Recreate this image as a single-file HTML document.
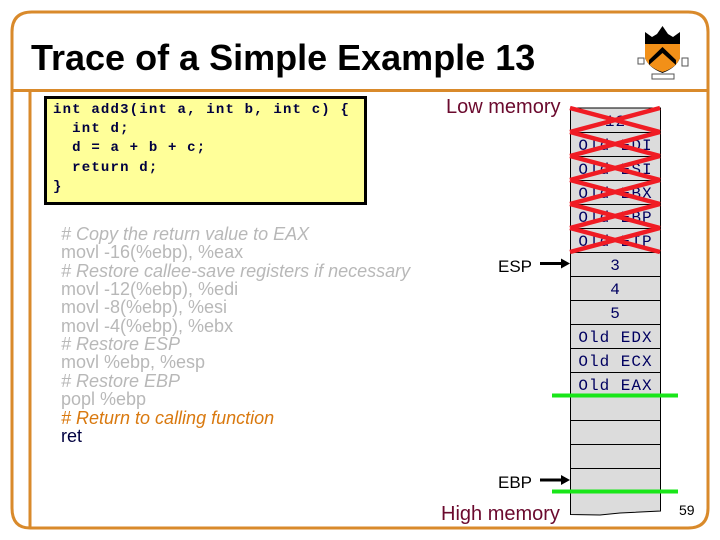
<!DOCTYPE html>
<html><head><meta charset="utf-8">
<style>
html,body{margin:0;padding:0;background:#fff}
#p{position:relative;width:720px;height:540px;overflow:hidden;background:#fff;font-family:"Liberation Sans",sans-serif}
.t{position:absolute;white-space:pre}
.g{color:#b8b8b8}.i{font-style:italic}
#code{position:absolute;left:44px;top:96px;width:317px;height:103px;border:3px solid #000;background:#ffff99}
.c{position:absolute;left:53px;white-space:pre;font:bold 14px/20px "Liberation Mono",monospace;letter-spacing:1.18px;color:#000040}
.a{position:absolute;left:61px;font-size:18px;line-height:18px;white-space:pre}
.s{position:absolute;left:571px;width:89px;text-align:center;font:16px/18px "Liberation Mono",monospace;letter-spacing:1px;color:#000060}
</style></head><body><div id="p">
<svg style="position:absolute;left:0;top:0" width="720" height="540">
<path d="M12 32 Q12 12 32 12 H688 Q708 12 708 32 V508 Q708 528 688 528 H30 Q12 528 12 508 Z" fill="#fff" stroke="#d98a2b" stroke-width="3"/>
<path d="M12 90.5 H708 M30 90.5 V528" fill="none" stroke="#d98a2b" stroke-width="3"/>
<path d="M570.5 108 H660.5 V511 L620 513 L600 515 L570.5 514.5 Z" fill="#dcdcdc" stroke="#000" stroke-width="1"/>
<g stroke="#000" stroke-width="1">
<path d="M570 132.5H660M570 156.5H660M570 180.5H660M570 204.5H660M570 228.5H660M570 252.5H660M570 276.5H660M570 300.5H660M570 324.5H660M570 348.5H660M570 372.5H660M570 396.5H660M570 420.5H660M570 444.5H660M570 468.5H660M570 492.5H660"/>
</g>
<g fill="#f29018">
<path d="M645 32 L652 37 L657 34 L662.5 26 L668 34 L673 37 L680 32 V58 Q676 68 662.5 73 Q649 68 645 58 Z" fill="#000"/>
<path d="M645 44 H680 V58 Q676 68 662.5 72 Q649 68 645 58 Z"/>
<path d="M649 60 L662.5 47 L676 60 L676 65 L662.5 53 L649 65 Z" fill="#000"/>
</g>
<path d="M638 58h6v6h-6zM682 58h6v8h-6zM652 74h22v5h-22z" fill="#fff" stroke="#555" stroke-width="1"/>
</svg>

<div class="t" style="left:31px;top:37px;font-size:36px;line-height:42px;font-weight:bold;color:#000">Trace of a Simple Example 13</div>

<div id="code"></div>
<div class="c" style="top:100px">int add3(int a, int b, int c) {</div>
<div class="c" style="top:119px">  int d;</div>
<div class="c" style="top:138px">  d = a + b + c;</div>
<div class="c" style="top:158px">  return d;</div>
<div class="c" style="top:177px">}</div>

<div class="a g i" style="top:225px"># Copy the return value to EAX</div>
<div class="a g" style="top:243px">movl -16(%ebp), %eax</div>
<div class="a g i" style="top:262px"># Restore callee-save registers if necessary</div>
<div class="a g" style="top:280px">movl -12(%ebp), %edi</div>
<div class="a g" style="top:298px">movl -8(%ebp), %esi</div>
<div class="a g" style="top:317px">movl -4(%ebp), %ebx</div>
<div class="a g i" style="top:335px"># Restore ESP</div>
<div class="a g" style="top:353px">movl %ebp, %esp</div>
<div class="a g i" style="top:372px"># Restore EBP</div>
<div class="a g" style="top:390px">popl %ebp</div>
<div class="a i" style="top:409px;color:#d9790f"># Return to calling function</div>
<div class="a" style="top:427px;color:#000040">ret</div>

<div class="t" style="left:446px;top:97px;font-size:20px;line-height:21px;color:#6b0a2e">Low memory</div>
<div class="t" style="left:441px;top:504px;font-size:20px;line-height:21px;color:#6b0a2e">High memory</div>
<div class="t" style="left:498px;top:257px;font-size:17px;line-height:19px;color:#000">ESP</div>
<div class="t" style="left:498px;top:473px;font-size:17px;line-height:19px;color:#000">EBP</div>
<div class="t" style="left:679px;top:503px;font-size:14px;line-height:15px;color:#000">59</div>

<div class="s" style="top:113px">12</div>
<div class="s" style="top:137px">Old EDI</div>
<div class="s" style="top:161px">Old ESI</div>
<div class="s" style="top:185px">Old EBX</div>
<div class="s" style="top:209px">Old EBP</div>
<div class="s" style="top:233px">Old EIP</div>
<div class="s" style="top:257px">3</div>
<div class="s" style="top:281px">4</div>
<div class="s" style="top:305px">5</div>
<div class="s" style="top:329px">Old EDX</div>
<div class="s" style="top:353px">Old ECX</div>
<div class="s" style="top:377px">Old EAX</div>

<svg style="position:absolute;left:0;top:0" width="720" height="540">
<g stroke="#f01c24" stroke-width="4.5">
<path d="M570 108L660 132M660 108L570 132M570 132L660 156M660 132L570 156M570 156L660 180M660 156L570 180M570 180L660 204M660 180L570 204M570 204L660 228M660 204L570 228M570 228L660 252M660 228L570 252"/>
</g>
<path d="M552 395.5H678M552 491.5H678" stroke="#19e619" stroke-width="4"/>
<path d="M540 263.5H562M540 480H562" stroke="#000" stroke-width="3"/>
<path d="M561 258.5L570 263.5L561 268.5ZM561 475L570 480L561 485Z" fill="#000"/>
</svg>
</div></body></html>
